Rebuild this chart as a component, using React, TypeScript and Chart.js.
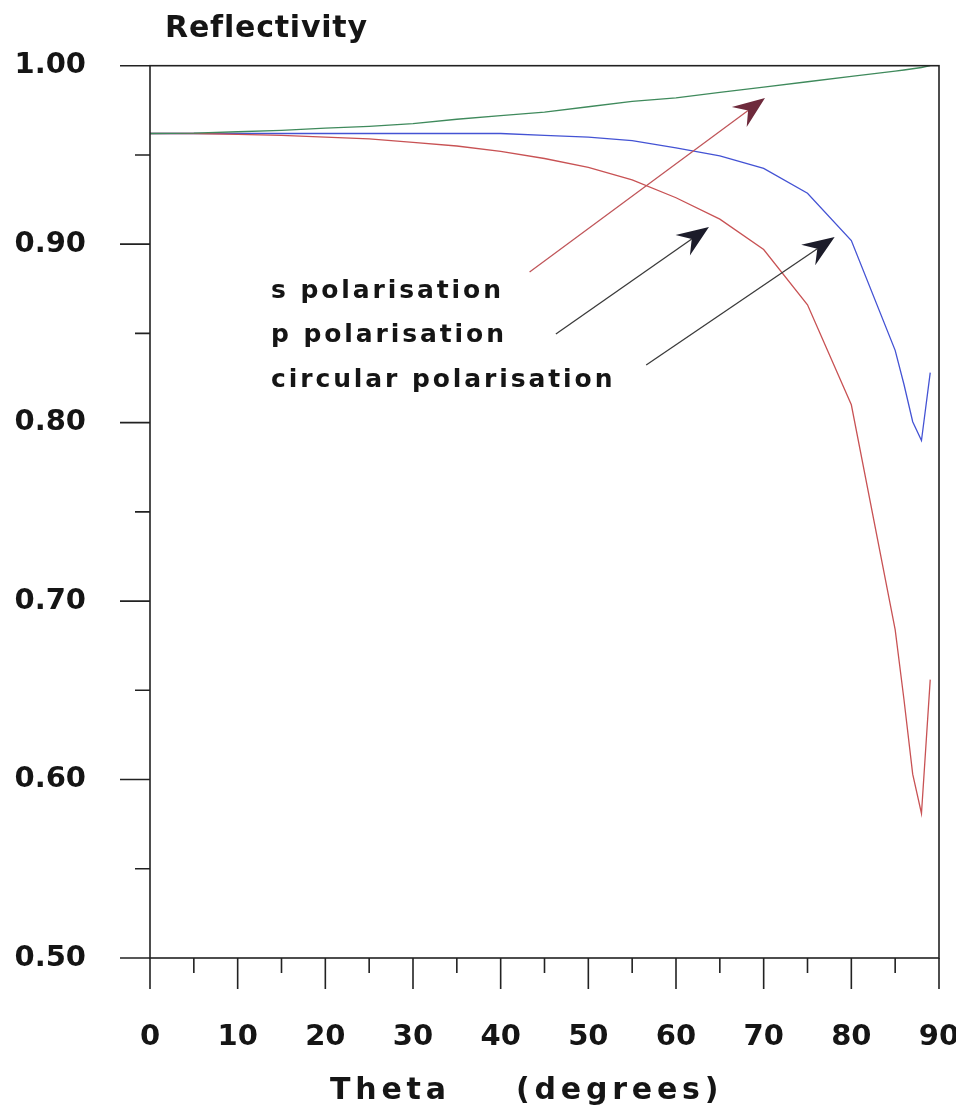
import React, { useEffect, useRef } from "react";
import { Chart, registerables } from "chart.js";

Chart.register(...registerables);

// Angle of incidence (degrees)
const thetaDeg = [0, 5, 10, 15, 20, 25, 30, 35, 40, 45, 50, 55, 60, 65, 70, 75, 80, 85, 86, 87, 88, 89];
// s polarisation (green)
const sPolarisation = [0.962, 0.9622, 0.963, 0.9638, 0.965, 0.966, 0.9675, 0.97, 0.972, 0.974, 0.977, 0.98, 0.982, 0.985, 0.988, 0.991, 0.994, 0.997, 0.9976, 0.9983, 0.999, 1.0];
// p polarisation (red)
const pPolarisation = [0.962, 0.962, 0.9615, 0.961, 0.96, 0.959, 0.957, 0.955, 0.952, 0.948, 0.943, 0.936, 0.926, 0.914, 0.897, 0.866, 0.81, 0.684, 0.645, 0.603, 0.581, 0.656];
// circular polarisation (blue)
const circularPolarisation = [0.962, 0.962, 0.962, 0.962, 0.962, 0.962, 0.962, 0.962, 0.962, 0.961, 0.96, 0.958, 0.954, 0.9495, 0.9425, 0.9285, 0.902, 0.8405, 0.8215, 0.8005, 0.79, 0.828];

const xMajorTicks = [0, 10, 20, 30, 40, 50, 60, 70, 80, 90];
const xMinorTicks = [5, 15, 25, 35, 45, 55, 65, 75, 85];
const yMajorTicks = [0.5, 0.6, 0.7, 0.8, 0.9, 1.0];
const yMinorTicks = [0.55, 0.65, 0.75, 0.85, 0.95];

const yTitle = "Reflectivity";
const xTitleWords = ["Theta", "(degrees)"];

const legendLabels = ["s polarisation", "p polarisation", "circular polarisation"];
// arrows in data coordinates: [fromTheta, fromR, toTheta, toR]
const arrowS = [43.3, 0.8844, 70.15, 0.9819];
const arrowP = [46.3, 0.8497, 63.76, 0.9096];
const arrowC = [56.6, 0.8323, 78.1, 0.904];

const FONT = '"DejaVu Sans", "Liberation Sans", Arial, sans-serif';

function drawArrow(ctx: CanvasRenderingContext2D, x0: number, y0: number, x1: number, y1: number, lineColor: string, headColor: string) {
  const dx = x1 - x0, dy = y1 - y0;
  const len = Math.hypot(dx, dy);
  const ux = dx / len, uy = dy / len;
  const px = -uy, py = ux;
  const headLen = 32, half = 12.5, notch = 21;
  ctx.strokeStyle = lineColor;
  ctx.lineWidth = 1.3;
  ctx.beginPath();
  ctx.moveTo(x0, y0);
  ctx.lineTo(x1 - ux * notch, y1 - uy * notch);
  ctx.stroke();
  ctx.fillStyle = headColor;
  ctx.beginPath();
  ctx.moveTo(x1, y1);
  ctx.lineTo(x1 - ux * headLen + px * half, y1 - uy * headLen + py * half);
  ctx.lineTo(x1 - ux * notch, y1 - uy * notch);
  ctx.lineTo(x1 - ux * headLen - px * half, y1 - uy * headLen - py * half);
  ctx.closePath();
  ctx.fill();
}

const decorPlugin = {
  id: "decor",
  afterDatasetsDraw(chart: any) {
    const { ctx, chartArea: ca, scales } = chart;
    const x = scales.x, y = scales.y;
    ctx.save();
    ctx.strokeStyle = "#222";
    ctx.lineWidth = 1.6;
    ctx.strokeRect(ca.left, ca.top, ca.right - ca.left, ca.bottom - ca.top);
    ctx.beginPath();
    for (const v of yMajorTicks) {
      const py = y.getPixelForValue(v);
      ctx.moveTo(ca.left - 30, py);
      ctx.lineTo(ca.left, py);
    }
    for (const v of yMinorTicks) {
      const py = y.getPixelForValue(v);
      ctx.moveTo(ca.left - 15, py);
      ctx.lineTo(ca.left, py);
    }
    for (const v of xMajorTicks) {
      const px = x.getPixelForValue(v);
      ctx.moveTo(px, ca.bottom);
      ctx.lineTo(px, ca.bottom + 31);
    }
    for (const v of xMinorTicks) {
      const px = x.getPixelForValue(v);
      ctx.moveTo(px, ca.bottom);
      ctx.lineTo(px, ca.bottom + 15);
    }
    ctx.stroke();

    // arrows
    const arrows: [number[], string, string][] = [
      [arrowS, "#c0565a", "#6e2a3c"],
      [arrowP, "#3a3a3a", "#1c1c2a"],
      [arrowC, "#3a3a3a", "#1c1c2a"],
    ];
    for (const [a, lc, hc] of arrows) {
      drawArrow(ctx, x.getPixelForValue(a[0]), y.getPixelForValue(a[1]), x.getPixelForValue(a[2]), y.getPixelForValue(a[3]), lc, hc);
    }

    // texts
    ctx.fillStyle = "#151515";
    ctx.textBaseline = "alphabetic";
    ctx.textAlign = "left";
    (ctx as any).letterSpacing = "2.9px";
    ctx.font = `bold 25px ${FONT}`;
    const legendBase = [290, 334, 379];
    legendLabels.forEach((t, i) => ctx.fillText(t, ca.left + 121, legendBase[i]));

    (ctx as any).letterSpacing = "0.8px";
    ctx.font = `bold 30px ${FONT}`;
    ctx.fillText(yTitle, ca.left + 15, 29);

    (ctx as any).letterSpacing = "4.8px";
    ctx.fillText(xTitleWords[0], ca.left + 180, 1091);
    ctx.fillText(xTitleWords[1], ca.left + 366, 1091);
    (ctx as any).letterSpacing = "0px";
    ctx.restore();
  },
};

export default function App() {
  const ref = useRef<HTMLCanvasElement | null>(null);
  useEffect(() => {
    if (!ref.current) return;
    const chart = new Chart(ref.current, {
      type: "line",
      data: {
        labels: thetaDeg,
        datasets: [
          { label: legendLabels[0], data: thetaDeg.map((t, i) => ({ x: t, y: sPolarisation[i] })), borderColor: "#3f8a5c", borderWidth: 1.3, pointRadius: 0, tension: 0, clip: 4 } as any,
          { label: legendLabels[1], data: thetaDeg.map((t, i) => ({ x: t, y: pPolarisation[i] })), borderColor: "#c85254", borderWidth: 1.3, pointRadius: 0, tension: 0, clip: 4 } as any,
          { label: legendLabels[2], data: thetaDeg.map((t, i) => ({ x: t, y: circularPolarisation[i] })), borderColor: "#4453d4", borderWidth: 1.3, pointRadius: 0, tension: 0, clip: 4 } as any,
        ],
      },
      options: {
        animation: false,
        responsive: false,
        devicePixelRatio: 1,
        layout: { padding: { top: 57.7, right: 17, left: 0, bottom: 0 } },
        plugins: { legend: { display: false }, tooltip: { enabled: false }, title: { display: false } },
        scales: {
          x: {
            type: "linear",
            min: 0,
            max: 90,
            grid: { display: false, drawTicks: false },
            border: { display: false },
            ticks: {
              stepSize: 10,
              padding: 62,
              color: "#151515",
              font: { family: FONT, weight: "bold", size: 29 },
              maxRotation: 0,
              callback: (v: any) => String(v),
            },
            afterFit: (s: any) => {
              s.height = 152;
              s.paddingLeft = 0;
              s.paddingRight = 0;
            },
          },
          y: {
            type: "linear",
            min: 0.5,
            max: 1.0,
            grid: { display: false, drawTicks: false },
            border: { display: false },
            ticks: {
              stepSize: 0.1,
              padding: 64,
              color: "#151515",
              font: { family: FONT, weight: "bold", size: 29 },
              callback: (v: any) => Number(v).toFixed(2),
            },
            afterFit: (s: any) => {
              s.width = 142;
              s.paddingTop = 0;
              s.paddingBottom = 0;
            },
          },
        },
      } as any,
      plugins: [decorPlugin],
    });
    return () => chart.destroy();
  }, []);
  return (
    <div style={{ width: 948, height: 1102 }}>
      <canvas ref={ref} width={948} height={1102} style={{ display: "block" }} />
    </div>
  );
}
